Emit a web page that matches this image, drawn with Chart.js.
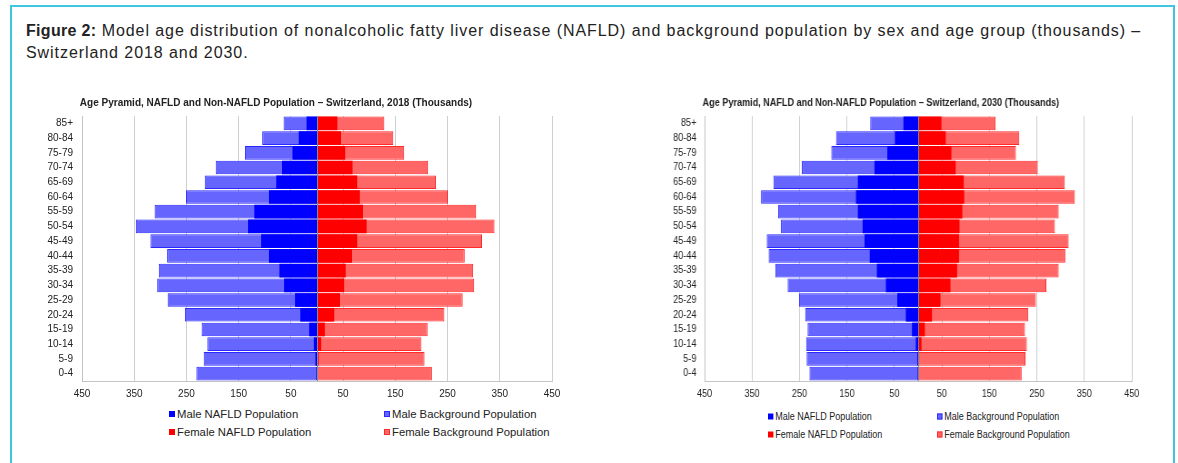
<!DOCTYPE html>
<html><head><meta charset="utf-8">
<script src="https://cdn.jsdelivr.net/npm/chart.js@4.4.0/dist/chart.umd.min.js"></script>
<style>
body{margin:0;background:#fff;width:1178px;height:463px;overflow:hidden;position:relative;font-family:"Liberation Sans",Arial,sans-serif;}
#frame{position:absolute;left:10px;top:5px;width:1165px;height:480px;border:2px solid #3ec7dc;box-sizing:border-box;}
#caption{position:absolute;left:26px;top:20px;width:1150px;font-size:16px;line-height:22px;color:#222;letter-spacing:0.93px;white-space:nowrap;}
#caption b{font-weight:bold;letter-spacing:0.3px;}
.wrap{position:absolute;top:90px;transform-origin:0 0;}
.legend{position:absolute;font-size:11.3px;color:#222;white-space:nowrap;transform-origin:0 0;}
.item{position:absolute;display:flex;align-items:center;}
.sw{display:inline-block;width:6px;height:6px;margin-right:2px;box-sizing:border-box;}
</style></head>
<body>
<div id="frame"></div>
<div id="caption"><b>Figure 2:</b> Model age distribution of nonalcoholic fatty liver disease (NAFLD) and background population by sex and age group (thousands) –<br>Switzerland 2018 and 2030.</div>
<div class="wrap" id="w1" style="left:0px;"><canvas id="c1" width="608" height="311"></canvas></div>
<div class="wrap" id="w2" style="left:630px;transform:scaleX(0.909);"><canvas id="c2" width="608" height="311"></canvas></div>
<div class="legend" id="lg1" style="left:0;top:0;"></div>
<div class="legend" id="lg2" style="left:0;top:0;"></div>
<script>
const ageGroups = ['85+','80-84','75-79','70-74','65-69','60-64','55-59','50-54','45-49','40-44','35-39','30-34','25-29','20-24','15-19','10-14','5-9','0-4'];
const tickValues = [-450,-350,-250,-150,-50,50,150,250,350,450];
const seriesNames = ['Male NAFLD Population','Male Background Population','Female NAFLD Population','Female Background Population'];

const maleNafld2018 = [20,35,47,67,78,92,120,132,107,92,72,63,42,32,15,6,3,0];
const maleBackground2018 = [64,105,138,194,215,251,311,347,319,287,303,306,286,253,221,210,217,231];
const femaleNafld2018 = [39,46,54,68,77,82,88,95,77,67,55,52,44,33,15,8,3,0];
const femaleBackground2018 = [129,146,167,213,228,251,305,340,316,283,299,301,279,244,212,200,206,220];

const maleNafld2030 = [31,49,65,92,127,131,127,117,113,102,87,68,44,26,13,5,1.5,0];
const maleBackground2030 = [101,173,183,245,305,331,295,289,319,315,301,275,251,238,233,236,235,229];
const femaleNafld2030 = [49,58,70,79,96,97,93,87,86,86,82,68,47,29,14,7,2,0];
const femaleBackground2030 = [163,213,206,252,309,330,296,288,317,310,296,270,248,232,225,229,226,218];

const COL = {
  mN:{bg:'#0000ff',bd:'#0000ff'},
  mB:{bg:'#6666ff',bd:'#2a2aff'},
  fN:{bg:'#ff0000',bd:'#ff0000'},
  fB:{bg:'#ff6666',bd:'#ff2a2a'}
};

const zeroLine = {
  id:'zeroLine',
  afterDatasetsDraw(chart){
    const x = Math.round(chart.scales.x.getPixelForValue(0))+0.5;
    const {top,bottom} = chart.chartArea;
    const ctx = chart.ctx;
    ctx.save();ctx.strokeStyle='#8a8a8a';ctx.lineWidth=1;
    ctx.beginPath();ctx.moveTo(x,top);ctx.lineTo(x,bottom);ctx.stroke();ctx.restore();
  }
};

function makeChart(id, year, mN, mB, fN, fB){
  const neg = a => a.map(v => -v);
  const ds = (label, data, c, bw) => ({label, data, backgroundColor:c.bg, borderColor:c.bd, borderWidth:bw,
    borderSkipped:false, grouped:false, barPercentage:0.93, categoryPercentage:1});
  return new Chart(document.getElementById(id), {
    type:'bar',
    data:{labels:ageGroups, datasets:[
      ds(seriesNames[0], neg(mN), COL.mN, 0),
      ds(seriesNames[2], fN, COL.fN, 0),
      ds(seriesNames[1], neg(mB), COL.mB, 1),
      ds(seriesNames[3], fB, COL.fB, 1)
    ]},
    options:{
      indexAxis:'y', responsive:false, animation:false, devicePixelRatio:1,
      layout:{padding:{left:0,right:56,top:0,bottom:0}},
      plugins:{
        legend:{display:false}, tooltip:{enabled:false},
        title:{display:true, text:'Age Pyramid, NAFLD and Non-NAFLD Population – Switzerland, '+year+' (Thousands)',
          color:'#222', font:{family:'"Liberation Sans", Arial, sans-serif', size:10, weight:'bold'}, padding:{top:7,bottom:7}}
      },
      scales:{
        x:{type:'linear', min:-450, max:450,
          afterBuildTicks(s){ s.ticks = tickValues.map(v=>({value:v})); },
          afterFit(s){ s.height = 20; },
          grid:{color:'#cfcfcf', drawTicks:false, lineWidth:1},
          border:{display:true, color:'#c4c4c4'},
          ticks:{padding:7, color:'#222', font:{family:'"Liberation Sans", Arial, sans-serif', size:10},
            callback:v=>Math.abs(v), maxRotation:0, autoSkip:false}
        },
        y:{
          afterFit(s){ s.width = 82; },
          grid:{display:false, drawTicks:false},
          border:{display:true, color:'#c4c4c4'},
          ticks:{padding:9, color:'#222', font:{family:'"Liberation Sans", Arial, sans-serif', size:10}, autoSkip:false}
        }
      }
    },
    plugins:[zeroLine]
  });
}

makeChart('c1','2018', maleNafld2018, maleBackground2018, femaleNafld2018, femaleBackground2018);
makeChart('c2','2030', maleNafld2030, maleBackground2030, femaleNafld2030, femaleBackground2030);

function legend(id, pos, fs, sx){
  const el = document.getElementById(id);
  const cols = [COL.mN, COL.mB, COL.fN, COL.fB];
  const borders = [false,true,false,true];
  seriesNames.forEach((n,i)=>{
    const it = document.createElement('div');
    it.className='item';
    it.style.left = pos[i][0]+'px'; it.style.top = pos[i][1]+'px';
    it.style.fontSize = fs+'px';
    it.style.transform = 'translateY(-50%) scaleX('+sx+')';
    it.style.transformOrigin = '0 50%';
    const sw = document.createElement('span');
    sw.className='sw';
    sw.style.background = cols[i].bg;
    if(borders[i]) sw.style.border = '1px solid '+cols[i].bd;
    it.appendChild(sw);
    it.appendChild(document.createTextNode(n));
    el.appendChild(it);
  });
}
legend('lg1', [[169,414],[384,414],[169,432],[384,432]], 11.3, 1);
legend('lg2', [[768,416],[937,416],[768,434],[937,434]], 10, 0.9);
</script>
</body></html>
